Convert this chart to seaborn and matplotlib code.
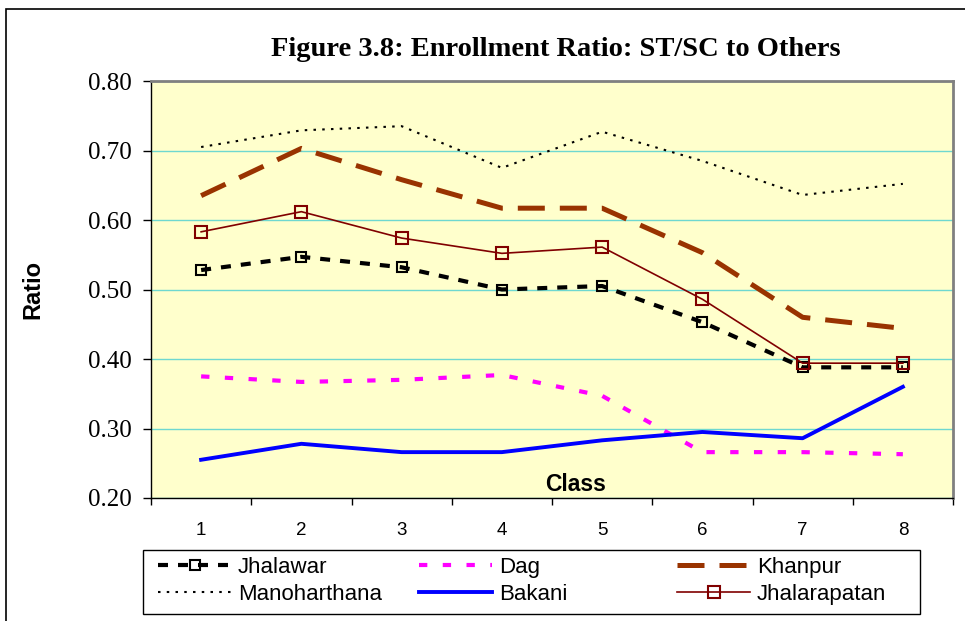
import pandas as pd
import matplotlib.pyplot as plt
import seaborn as sns
from matplotlib.patches import Rectangle

classes = [1, 2, 3, 4, 5, 6, 7, 8]
jhalawar = [0.528, 0.547, 0.532, 0.500, 0.505, 0.453, 0.388, 0.388]
dag = [0.375, 0.367, 0.370, 0.377, 0.347, 0.266, 0.266, 0.263]
khanpur = [0.635, 0.703, 0.658, 0.617, 0.617, 0.553, 0.460, 0.444]
manoharthana = [0.705, 0.729, 0.735, 0.675, 0.727, 0.685, 0.636, 0.652]
bakani = [0.255, 0.278, 0.266, 0.266, 0.283, 0.295, 0.286, 0.360]
jhalarapatan = [0.583, 0.612, 0.574, 0.552, 0.561, 0.486, 0.394, 0.394]
yticks = [0.2, 0.3, 0.4, 0.5, 0.6, 0.7, 0.8]

series = {
    'Jhalawar': jhalawar,
    'Dag': dag,
    'Khanpur': khanpur,
    'Manoharthana': manoharthana,
    'Bakani': bakani,
    'Jhalarapatan': jhalarapatan,
}
df = pd.DataFrame([(name, c, v) for name, vals in series.items()
                   for c, v in zip(classes, vals)],
                  columns=['District', 'Class', 'Ratio'])

styles = {
    'Jhalawar': dict(color='black', lw=3, ls=(0, (2.4, 2.4)), marker='s', ms=7,
                     mfc='none', mec='black', mew=1.5),
    'Dag': dict(color='#FF00FF', lw=3, ls=(0, (2, 3.7))),
    'Khanpur': dict(color='#993300', lw=3.6, ls=(0, (5.4, 3))),
    'Manoharthana': dict(color='black', lw=1.5, ls=(0, (1.2, 3))),
    'Bakani': dict(color='#0000FF', lw=2.8, ls='-'),
    'Jhalarapatan': dict(color='#800000', lw=1.2, ls='-', marker='s', ms=8,
                         mfc='none', mec='#800000', mew=1.5),
}

fig = plt.figure(figsize=(9.65, 6.21), dpi=100)
ax = fig.add_axes([151 / 965, 1 - 498 / 621, 802 / 965, 417 / 621])
ax.set_facecolor('#FFFFCC')

lines = {}
for name in series:
    sns.lineplot(data=df[df['District'] == name], x='Class', y='Ratio',
                 ax=ax, errorbar=None, label=name, **styles[name])
    lines[name] = ax.get_lines()[-1]
ax.get_legend().remove()

ax.set_xlim(0.5, 8.5)
ax.set_ylim(0.2, 0.8)
ax.set_yticks(yticks)
ax.set_yticklabels([f'{t:.2f}' for t in yticks], family='Liberation Serif', fontsize=18)
ax.set_xticks(classes)
ax.set_xticklabels([str(c) for c in classes], family='Liberation Sans', fontsize=13.5)
ax.set_xticks([c + 0.5 for c in [0] + classes], minor=True)
ax.tick_params(axis='x', which='major', length=0, pad=17)
ax.tick_params(axis='x', which='minor', length=5, width=1, direction='out')
ax.tick_params(axis='y', length=6, width=1, direction='out', pad=8)
ax.grid(axis='y', color='#6ED8D0', lw=1)
ax.set_axisbelow(True)
for s in ['top', 'right']:
    ax.spines[s].set_color('#808080')
    ax.spines[s].set_linewidth(2)
for s in ['left', 'bottom']:
    ax.spines[s].set_color('black')
    ax.spines[s].set_linewidth(1)

ax.set_xlabel('')
ax.set_ylabel('Ratio', family='Liberation Sans', fontweight='bold', fontsize=17)
ax.yaxis.set_label_coords((44 - 151) / 802, 0.5)
ax.text(0.53, 0.004, 'Class', transform=ax.transAxes, ha='center', va='bottom',
        family='Liberation Sans', fontweight='bold', fontsize=16.5)

fig.text(0.576, 1 - 50 / 621, 'Figure 3.8: Enrollment Ratio: ST/SC to Others',
         ha='center', va='center', family='Liberation Serif', fontweight='bold',
         fontsize=20.5)

# legend: three equal-width columns inside one frame
columns = [['Jhalawar', 'Manoharthana'], ['Dag', 'Bakani'], ['Khanpur', 'Jhalarapatan']]
col_x = [158, 419, 677]
for names, x in zip(columns, col_x):
    fig.legend([lines[n] for n in names], names, loc='upper left',
               bbox_to_anchor=(x / 965, 1 - 557 / 621), bbox_transform=fig.transFigure,
               frameon=False, borderpad=0, borderaxespad=0, handlelength=3.3,
               handletextpad=0.3, labelspacing=0.25,
               prop={'family': 'Liberation Sans', 'size': 16})
fig.add_artist(Rectangle((143 / 965, 1 - 614 / 621), 777 / 965, 64 / 621,
                         transform=fig.transFigure, fill=False, edgecolor='black', lw=1))

fig.add_artist(Rectangle((6 / 965, -0.1), 1.1, 1.1 - 9 / 621, transform=fig.transFigure,
                         fill=False, edgecolor='black', lw=1.2, clip_on=False))

fig.savefig('out.png', dpi=100)
